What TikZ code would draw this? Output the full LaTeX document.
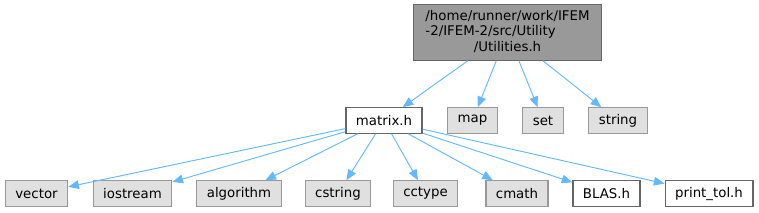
\documentclass[tikz,border=0pt]{standalone}
\usepackage{fontspec}
\setmainfont{DejaVu Sans}
\usepackage{xcolor}
\usepackage{tikz}
\usetikzlibrary{arrows.meta,positioning,calc}
\definecolor{edgeblue}{HTML}{63B8FF}
\definecolor{sysfill}{HTML}{E0E0E0}
\definecolor{sysdraw}{HTML}{999999}
\definecolor{rootfill}{HTML}{999999}
\definecolor{rootdraw}{HTML}{666666}
\tikzset{
  hdr/.style    ={draw, rectangle, font=\fontsize{10pt}{11.6pt}\selectfont, inner xsep=7.5pt,
                  minimum height=19pt, line width=0.9pt},
  hdrroot/.style={hdr, draw=rootdraw, fill=rootfill, inner xsep=9pt, minimum height=41pt},
  hdrsys/.style ={hdr, draw=sysdraw, fill=sysfill},
  hdrloc/.style ={hdr, draw=rootdraw, fill=white},
  inc/.style    ={-{Triangle[length=8pt,width=6.5pt]}, draw=edgeblue, line width=0.7pt},
}
\begin{document}
\begin{tikzpicture}[x=0.75pt,y=-0.75pt]
\useasboundingbox (0,0) rectangle (759,212);
% file whose includes are shown
\node[hdrroot] (utilities) at (507.5,32.5)
  {\begin{tabular}{@{}l@{}}/home/runner/work/IFEM\\-2/IFEM-2/src/Utility\\
   \multicolumn{1}{@{}c@{}}{/Utilities.h}\end{tabular}};
% direct includes
\node[hdrloc] (matrix) at (384,120.5) {matrix.h};
\node[hdrsys] (map)    at (472.5,120.5) {map};
\node[hdrsys] (set)    at (543,120.5) {set};
\node[hdrsys] (string) at (618,120.5) {string};
% includes of matrix.h
\node[hdrsys] (vector)    at (36.5,193.5) {vector};
\node[hdrsys] (iostream)  at (132.5,193.5) {iostream};
\node[hdrsys] (algorithm) at (239,193.5) {algorithm};
\node[hdrsys] (cstring)   at (338,193.5) {cstring};
\node[hdrsys] (cctype)    at (425.5,193.5) {cctype};
\node[hdrsys] (cmath)     at (517,193.5) {cmath};
\node[hdrloc] (blas)      at (606.5,193.5) {BLAS.h};
\node[hdrloc] (printtol)  at (709,193.5) {print\_tol.h};
\foreach \dst in {matrix,map,set,string}
  \draw[inc] (utilities) -- (\dst);
\foreach \dst in {vector,iostream,algorithm,cstring,cctype,cmath,blas,printtol}
  \draw[inc] (matrix) -- (\dst);
\end{tikzpicture}
\end{document}
